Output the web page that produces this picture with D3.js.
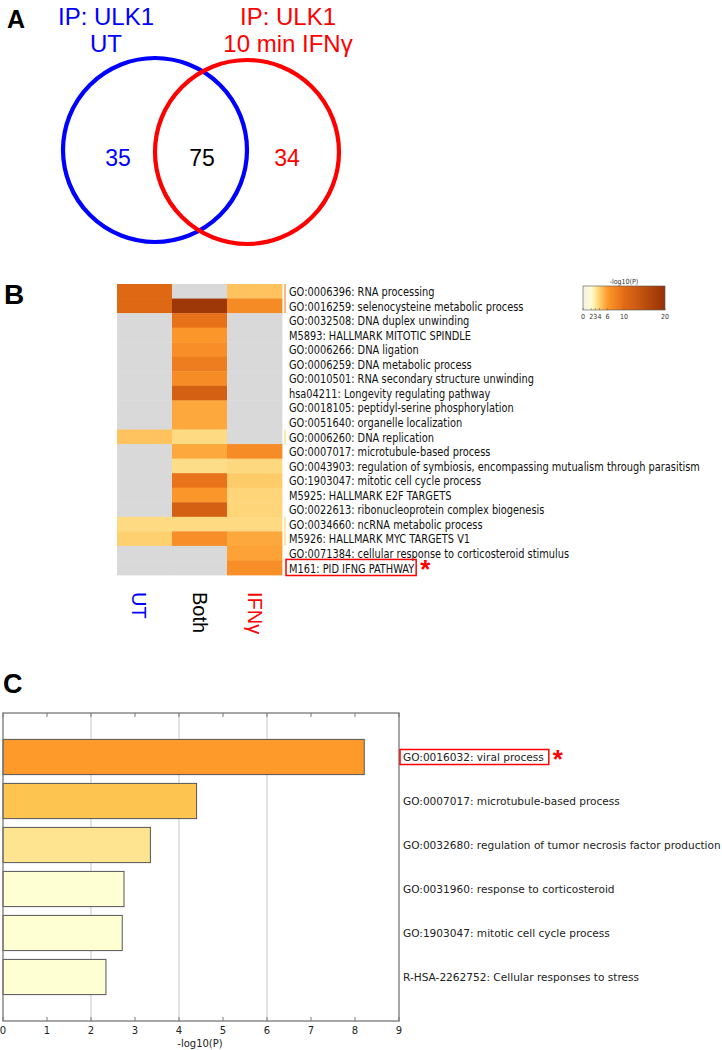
<!DOCTYPE html>
<html><head><meta charset="utf-8">
<script src="https://cdn.jsdelivr.net/npm/d3@7"></script>
<style>
html,body{margin:0;padding:0;background:#fff;}
svg{display:block;}
</style></head>
<body>
<svg id="chart" width="722" height="1050"></svg>
<script>
// ---------------- DATA ----------------
// Panel A: Venn
const vennSetTitles = [["IP: ULK1", "UT"], ["IP: ULK1", "10 min IFNγ"]];
const vennCounts = [35, 75, 34]; // UT only, Both, IFNγ only
const vennColors = ["#0000ff", "#000000", "#ff0000"];

// Panel B: heatmap
const hmColumns = ["UT", "Both", "IFNγ"];
const hmColumnColors = ["#0000ff", "#000000", "#ff0000"];
const hmTerms = [
  "GO:0006396: RNA processing",
  "GO:0016259: selenocysteine metabolic process",
  "GO:0032508: DNA duplex unwinding",
  "M5893: HALLMARK MITOTIC SPINDLE",
  "GO:0006266: DNA ligation",
  "GO:0006259: DNA metabolic process",
  "GO:0010501: RNA secondary structure unwinding",
  "hsa04211: Longevity regulating pathway",
  "GO:0018105: peptidyl-serine phosphorylation",
  "GO:0051640: organelle localization",
  "GO:0006260: DNA replication",
  "GO:0007017: microtubule-based process",
  "GO:0043903: regulation of symbiosis, encompassing mutualism through parasitism",
  "GO:1903047: mitotic cell cycle process",
  "M5925: HALLMARK E2F TARGETS",
  "GO:0022613: ribonucleoprotein complex biogenesis",
  "GO:0034660: ncRNA metabolic process",
  "M5926: HALLMARK MYC TARGETS V1",
  "GO:0071384: cellular response to corticosteroid stimulus",
  "M161: PID IFNG PATHWAY"
];
// -log10(P) per column (null = not enriched)
const hmUT   = [10.5, 10.5, null, null, null, null, null, null, null, null, 4.5, null, null, null, null, null, 3.6, 4.0, null, null];
const hmBoth = [null, 19, 9.5, 6.3, 7.0, 8.5, 7.2, 12, 5.5, 5.5, 3.6, 5.5, 3.5, 9.3, 6.3, 12, 3.6, 7.0, null, null];
const hmIFN  = [4.5, 7.3, null, null, null, null, null, null, null, null, null, 7.2, 3.7, 4.2, 3.8, 3.8, 3.6, 5.5, 5.7, 7.0];
const hmGroupStrip = [1, 1, 0, 0, 0, 0, 0, 0, 0, 0, 2, 0, 0, 0, 0, 0, 2, 2, 0, 0];
const legendTicks = [0, 2, 3, 4, 6, 10, 20];
const colorStops = [0, 2, 3, 4, 6, 10, 20];
const colorRange = ["#f3f1e4", "#fffbd2", "#feea9f", "#fed070", "#fd9a2c", "#e36b16", "#963206"];
const highlightTerm = "M161: PID IFNG PATHWAY";

// Panel C: bar chart
const barTerms = [
  "GO:0016032: viral process",
  "GO:0007017: microtubule-based process",
  "GO:0032680: regulation of tumor necrosis factor production",
  "GO:0031960: response to corticosteroid",
  "GO:1903047: mitotic cell cycle process",
  "R-HSA-2262752: Cellular responses to stress"
];
const barValues = [8.21, 4.40, 3.35, 2.75, 2.71, 2.34];
const barColors = ["#fd9a2a", "#fec450", "#fee391", "#ffffd4", "#ffffd4", "#ffffd4"];
const barTicks = [0, 1, 2, 3, 4, 5, 6, 7, 8, 9];
const barGrid = [2, 4, 6];
const barHighlight = "GO:0016032: viral process";

// ---------------- DRAW ----------------
const svg = d3.select("#chart");
const ARIAL = "Liberation Sans, Arial, sans-serif";
const DJV = "DejaVu Sans, sans-serif";
const DJVC = "DejaVu Sans Condensed, DejaVu Sans, sans-serif";

function panelLabel(t, x, y, size) {
  svg.append("text").attr("x", x).attr("y", y).text(t)
    .attr("font-family", ARIAL).attr("font-weight", "bold").attr("font-size", size).attr("fill", "#000");
}

// ===== Panel A =====
panelLabel("A", 7, 28, 25);
const gA = svg.append("g");
const vx = d3.scaleLinear().domain([0, 1]).range([155, 247]);
const circles = [{c: 0, cy: 150, r: 92, color: vennColors[0]}, {c: 1, cy: 152, r: 92, color: vennColors[2]}];
gA.selectAll("circle").data(circles).join("circle")
  .attr("cx", d => vx(d.c)).attr("cy", d => d.cy).attr("r", d => d.r)
  .attr("fill", "none").attr("stroke", d => d.color).attr("stroke-width", 4.2);
const titleX = [106, 288];
const titleColors = [vennColors[0], vennColors[2]];
vennSetTitles.forEach((lines, i) => {
  lines.forEach((ln, j) => {
    gA.append("text").attr("x", titleX[i]).attr("y", 25 + j * 27).text(ln)
      .attr("text-anchor", "middle").attr("font-family", ARIAL).attr("font-size", 24).attr("fill", titleColors[i]);
  });
});
const countPos = d3.scaleLinear().domain([0, 2]).range([118, 287]);
gA.selectAll("text.cnt").data(vennCounts).join("text").attr("class", "cnt")
  .attr("x", (d, i) => i === 1 ? 202 : countPos(i)).attr("y", 166)
  .attr("text-anchor", "middle").attr("font-family", ARIAL).attr("font-size", 23)
  .attr("fill", (d, i) => vennColors[i]).text(d => d);

// ===== Panel B =====
panelLabel("B", 4, 304, 28);
const gB = svg.append("g");
const colorScale = d3.scaleLinear().domain(colorStops).range(colorRange).clamp(true);
const hx = d3.scaleBand().domain(hmColumns).range([117, 282]).padding(0);
const hy = d3.scaleBand().domain(hmTerms).range([284, 575]).padding(0);
const hmCols = [hmUT, hmBoth, hmIFN];
const cells = [];
hmCols.forEach((arr, ci) => arr.forEach((v, ri) => cells.push({col: hmColumns[ci], term: hmTerms[ri], v})));
gB.selectAll("rect.cell").data(cells).join("rect").attr("class", "cell")
  .attr("x", d => hx(d.col)).attr("y", d => hy(d.term))
  .attr("width", hx.bandwidth() + 0.4).attr("height", hy.bandwidth() + 0.4)
  .attr("fill", d => d.v == null ? "#d9d9d9" : colorScale(d.v));
// group strip
const stripColors = ["#ffffff", "#f6b98a", "#fde9b0"];
gB.selectAll("rect.strip").data(hmGroupStrip).join("rect").attr("class", "strip")
  .attr("x", 284).attr("y", (d, i) => hy(hmTerms[i]))
  .attr("width", 2).attr("height", hy.bandwidth() + 0.3)
  .attr("fill", d => stripColors[d]);
// row labels
const rowLab = gB.append("g").attr("transform", "translate(289,0)");
const labs = rowLab.selectAll("text").data(hmTerms).join("text")
  .attr("x", 0).attr("y", d => hy(d) + hy.bandwidth() / 2 + 4.8)
  .attr("font-family", DJVC).attr("font-size", 13).attr("fill", "#111").text(d => d);
let maxW = 0;
labs.each(function () { maxW = Math.max(maxW, this.getComputedTextLength()); });
const sx = 411 / maxW;
rowLab.attr("transform", `translate(289,0) scale(${sx},1)`);
// highlight box
const hlW = (function () { let w = 0; labs.filter(d => d === highlightTerm).each(function () { w = this.getComputedTextLength(); }); return w * sx; })();
gB.append("rect").attr("x", 286).attr("y", hy(highlightTerm) - 1)
  .attr("width", hlW + 5).attr("height", hy.bandwidth() + 1.5)
  .attr("fill", "none").attr("stroke", "#ff0000").attr("stroke-width", 1.5);
gB.append("text").attr("x", 286 + hlW + 9).attr("y", hy(highlightTerm) + hy.bandwidth() / 2 + 10)
  .attr("font-family", ARIAL).attr("font-weight", "bold").attr("font-size", 26).attr("fill", "#ff0000").text("*");
// column labels (rotated)
gB.selectAll("text.col").data(hmColumns).join("text").attr("class", "col")
  .attr("transform", (d, i) => `translate(${hx(d) + hx.bandwidth() / 2 - 7 - (i === 0 ? 6 : 0)},592) rotate(90)`)
  .attr("font-family", ARIAL).attr("font-size", 20)
  .attr("fill", (d, i) => hmColumnColors[i]).text(d => d);
// legend
const lgX = d3.scaleLinear().domain([0, 20]).range([583, 665]);
const defs = svg.append("defs");
const grad = defs.append("linearGradient").attr("id", "lg").attr("x1", "0%").attr("x2", "100%");
colorStops.forEach((s, i) => grad.append("stop").attr("offset", (s / 20 * 100) + "%").attr("stop-color", colorRange[i]));
gB.append("rect").attr("x", lgX(0)).attr("y", 286).attr("width", lgX(20) - lgX(0)).attr("height", 24)
  .attr("fill", "url(#lg)").attr("stroke", "#555").attr("stroke-width", 0.6);
gB.append("text").attr("x", (lgX(0) + lgX(20)) / 2).attr("y", 284).attr("text-anchor", "middle")
  .attr("font-family", DJVC).attr("font-size", 7).attr("fill", "#333").text("-log10(P)");
gB.selectAll("line.lt").data(legendTicks).join("line").attr("class", "lt")
  .attr("x1", d => lgX(d)).attr("x2", d => lgX(d)).attr("y1", 308).attr("y2", 310)
  .attr("stroke", "#555").attr("stroke-width", 0.5);
gB.selectAll("text.lt").data(legendTicks).join("text").attr("class", "lt")
  .attr("x", d => lgX(d)).attr("y", 319).attr("text-anchor", "middle")
  .attr("font-family", DJVC).attr("font-size", 7).attr("fill", "#333").text(d => d);

// ===== Panel C =====
panelLabel("C", 3, 693, 27);
const gC = svg.append("g");
const bx = d3.scaleLinear().domain([0, 9]).range([3, 399]);
const by = d3.scaleLinear().domain([-1, barTerms.length]).range([713, 1021]);
const step = by(1) - by(0);
const bh = step * 0.8;
gC.selectAll("line.grid").data(barGrid).join("line").attr("class", "grid")
  .attr("x1", d => bx(d)).attr("x2", d => bx(d)).attr("y1", 713).attr("y2", 1021)
  .attr("stroke", "#d0d0d0").attr("stroke-width", 1.2);
gC.selectAll("rect.bar").data(barValues).join("rect").attr("class", "bar")
  .attr("x", bx(0)).attr("y", (d, i) => by(i) - bh / 2)
  .attr("width", d => bx(d) - bx(0)).attr("height", bh)
  .attr("fill", (d, i) => barColors[i]).attr("stroke", "#555").attr("stroke-width", 1);
gC.append("rect").attr("x", 3).attr("y", 713).attr("width", 396).attr("height", 308)
  .attr("fill", "none").attr("stroke", "#777").attr("stroke-width", 1.3);
// ticks top & bottom (inward)
gC.selectAll("line.tt").data(barTicks).join("line").attr("class", "tt")
  .attr("x1", d => bx(d)).attr("x2", d => bx(d)).attr("y1", 713).attr("y2", 717)
  .attr("stroke", "#777").attr("stroke-width", 1);
gC.selectAll("line.tb").data(barTicks).join("line").attr("class", "tb")
  .attr("x1", d => bx(d)).attr("x2", d => bx(d)).attr("y1", 1017).attr("y2", 1021)
  .attr("stroke", "#777").attr("stroke-width", 1);
gC.selectAll("text.tl").data(barTicks).join("text").attr("class", "tl")
  .attr("x", d => bx(d)) .attr("y", 1034).attr("text-anchor", "middle")
  .attr("font-family", DJV).attr("font-size", 10).attr("fill", "#222").text(d => d);
gC.append("text").attr("x", 200).attr("y", 1047).attr("text-anchor", "middle")
  .attr("font-family", DJV).attr("font-size", 10).attr("fill", "#222").text("-log10(P)");
// bar labels
const bl = gC.append("g");
const blt = bl.selectAll("text").data(barTerms).join("text")
  .attr("x", 0).attr("y", (d, i) => by(i) + 3.8)
  .attr("font-family", DJV).attr("font-size", 11).attr("fill", "#222").text(d => d);
let bmax = 0;
blt.each(function () { bmax = Math.max(bmax, this.getComputedTextLength()); });
const bsx = Math.min(1, 318 / bmax);
bl.attr("transform", `translate(403,0) scale(${bsx},1)`);
let bhlW = 0;
blt.filter(d => d === barHighlight).each(function () { bhlW = this.getComputedTextLength() * bsx; });
const hi = barTerms.indexOf(barHighlight);
gC.append("rect").attr("x", 400).attr("y", by(hi) - 7.5).attr("width", bhlW + 8).attr("height", 15)
  .attr("fill", "none").attr("stroke", "#ff0000").attr("stroke-width", 1.5);
gC.append("text").attr("x", 400 + bhlW + 12).attr("y", by(hi) + 11)
  .attr("font-family", ARIAL).attr("font-weight", "bold").attr("font-size", 26).attr("fill", "#ff0000").text("*");
</script>
</body></html>
